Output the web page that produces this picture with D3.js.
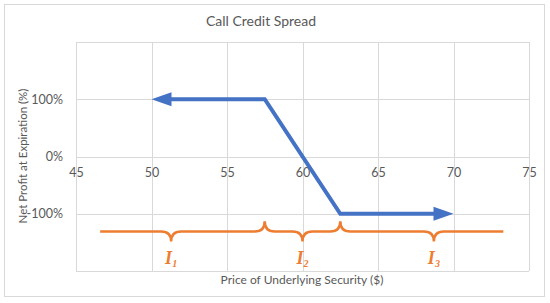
<!DOCTYPE html>
<html>
<head>
<meta charset="utf-8">
<script src="https://cdn.jsdelivr.net/npm/d3@7"></script>
<style>
body { margin: 0; background: #fff; }
text { font-family: Lato, "Open Sans", sans-serif; fill: #595959; }
</style>
</head>
<body>
<svg width="550" height="303"></svg>
<script>
var margin = {top: 42, right: 21, bottom: 32, left: 76};
var width = 550 - margin.left - margin.right;
var height = 303 - margin.top - margin.bottom;

// data
var xTicks = [45, 50, 55, 60, 65, 70, 75];
var yGrid = [-200, -100, 0, 100, 200];
var yTickLabels = [-100, 0, 100];
var payoffX = [50, 57.5, 62.5, 70];
var payoffY = [100, 100, -100, -100];
// braces: start, tip, end (price), baseline level (%)
var braceStart = [46.6, 57.5, 62.5];
var braceTip = [51.3, 60.0, 68.7];
var braceEnd = [57.5, 62.5, 73.3];
var braceLabels = ['1', '2', '3'];
var braceLevel = -131;

var svg = d3.select('svg');

svg.append('rect')
  .attr('x', 4.5).attr('y', 4.5)
  .attr('width', 540).attr('height', 292)
  .attr('fill', '#fff').attr('stroke', '#d9d9d9');

svg.append('text')
  .attr('x', 261).attr('y', 26)
  .attr('text-anchor', 'middle')
  .style('font-size', '14px')
  .text('Call Credit Spread');

var xScale = d3.scaleLinear().domain([45, 75]).range([0, width]);
var yScale = d3.scaleLinear().domain([-200, 200]).range([height, 0]);

var g = svg.append('g')
  .attr('transform', 'translate(' + margin.left + ',' + margin.top + ')');

// grid
g.selectAll('.vgrid')
  .data(xTicks)
  .enter()
  .append('line')
  .attr('x1', d => Math.round(xScale(d)) + 0.5)
  .attr('x2', d => Math.round(xScale(d)) + 0.5)
  .attr('y1', 0).attr('y2', height)
  .attr('stroke', '#d9d9d9');

g.selectAll('.hgrid')
  .data(yGrid)
  .enter()
  .append('line')
  .attr('x1', 0).attr('x2', width)
  .attr('y1', d => Math.round(yScale(d)) + 0.5)
  .attr('y2', d => Math.round(yScale(d)) + 0.5)
  .attr('stroke', '#d9d9d9');

// axes (labels only)
var xAxis = d3.axisBottom(xScale).tickValues(xTicks).tickSize(0).tickPadding(12);
var xAxisGroup = g.append('g')
  .attr('transform', 'translate(0,' + yScale(0) + ')')
  .call(xAxis);

var yAxis = d3.axisLeft(yScale).tickValues(yTickLabels).tickSize(0).tickPadding(13)
  .tickFormat(d => d + '%');
var yAxisGroup = g.append('g').call(yAxis);

g.selectAll('.domain').remove();
g.selectAll('.tick text')
  .style('font-family', 'Lato, sans-serif')
  .style('font-size', '12.5px')
  .attr('fill', '#595959');

// axis titles
svg.append('text')
  .attr('x', 302).attr('y', 284)
  .attr('text-anchor', 'middle')
  .style('font-size', '12px')
  .text('Price of Underlying Security ($)');

svg.append('text')
  .attr('transform', 'translate(27,156) rotate(-90)')
  .attr('text-anchor', 'middle')
  .style('font-size', '11.5px')
  .text('Net Profit at Expiration (%)');

// payoff line with arrows
var blue = '#4472c4';
var pts = payoffX.map((d, i) => [xScale(d), yScale(payoffY[i])]);
var arrowLen = 20, arrowHalf = 7;
var inner = pts.slice();
inner[0] = [pts[0][0] + arrowLen - 2, pts[0][1]];
inner[inner.length - 1] = [pts[pts.length - 1][0] - arrowLen + 2, pts[pts.length - 1][1]];

g.append('path')
  .attr('d', d3.line()(inner))
  .attr('fill', 'none')
  .attr('stroke', blue)
  .attr('stroke-width', 4)
  .attr('stroke-linejoin', 'miter');

var tipL = pts[0], tipR = pts[pts.length - 1];
g.append('path')
  .attr('d', 'M' + tipL[0] + ',' + tipL[1] +
    'L' + (tipL[0] + arrowLen) + ',' + (tipL[1] - arrowHalf) +
    'L' + (tipL[0] + arrowLen) + ',' + (tipL[1] + arrowHalf) + 'Z')
  .attr('fill', blue);
g.append('path')
  .attr('d', 'M' + tipR[0] + ',' + tipR[1] +
    'L' + (tipR[0] - arrowLen) + ',' + (tipR[1] - arrowHalf) +
    'L' + (tipR[0] - arrowLen) + ',' + (tipR[1] + arrowHalf) + 'Z')
  .attr('fill', blue);

// braces
var orange = '#ed7d31';
var yb = yScale(braceLevel);
var r = 10;
braceStart.forEach(function(s, i) {
  var x0 = xScale(s), xt = xScale(braceTip[i]), x1 = xScale(braceEnd[i]);
  var p = d3.path();
  if (i > 0) {
    p.moveTo(x0, yb - r);
    p.quadraticCurveTo(x0, yb, x0 + r, yb);
  } else {
    p.moveTo(x0, yb);
  }
  p.lineTo(xt - r, yb);
  p.quadraticCurveTo(xt, yb, xt, yb + r);
  p.quadraticCurveTo(xt, yb, xt + r, yb);
  if (i < braceStart.length - 1) {
    p.lineTo(x1 - r, yb);
    p.quadraticCurveTo(x1, yb, x1, yb - r);
  } else {
    p.lineTo(x1, yb);
  }
  g.append('path')
    .attr('d', p.toString())
    .attr('fill', 'none')
    .attr('stroke', orange)
    .attr('stroke-width', 2.5);

  var t = g.append('text')
    .attr('x', xt).attr('y', yb + 33)
    .attr('text-anchor', 'middle')
    .style('font-family', '"Liberation Serif", "DejaVu Serif", serif')
    .style('font-style', 'italic')
    .style('font-weight', 'bold')
    .style('font-size', '18px')
    .style('fill', orange);
  t.append('tspan').text('I');
  t.append('tspan')
    .attr('dy', 3)
    .style('font-size', '10px')
    .text(braceLabels[i]);
});
</script>
</body>
</html>
